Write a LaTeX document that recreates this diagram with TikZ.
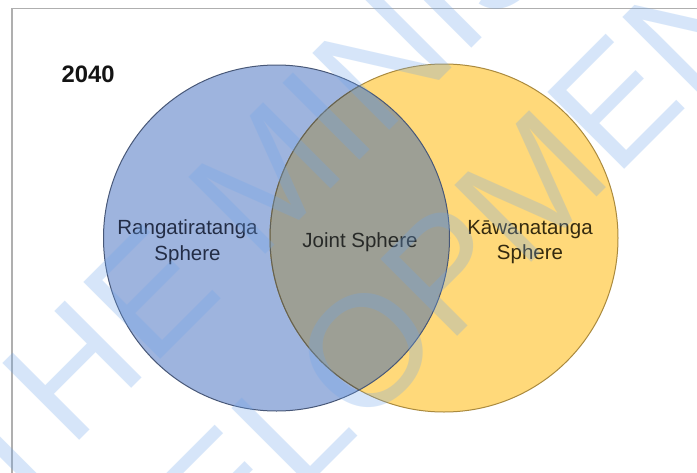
\documentclass[tikz,border=0pt]{standalone}
\usepackage{fontspec}
\setmainfont{Liberation Sans}
\definecolor{leftfill}{RGB}{158,180,222}
\definecolor{rightfill}{RGB}{255,217,122}
\definecolor{jointfill}{RGB}{157,159,149}
\definecolor{leftedge}{RGB}{72,88,120}
\definecolor{rightedge}{RGB}{170,138,62}
\definecolor{framegray}{RGB}{175,175,175}
\definecolor{wmblue}{RGB}{110,165,235}
\definecolor{lefttext}{RGB}{35,45,70}
\definecolor{jointtext}{RGB}{40,42,40}
\definecolor{righttext}{RGB}{52,42,15}
\definecolor{jointedge}{RGB}{95,96,88}
\definecolor{yeartext}{RGB}{20,20,20}
\tikzset{
  label/.style={inner sep=0pt, align=center, font=\fontsize{20.5}{25.5}\selectfont},
  wmtext/.style={inner sep=0pt, anchor=base west, rotate=45, text=wmblue, text opacity=0.28,
    font=\fontsize{158}{160}\selectfont},
}
\begin{document}
\begin{tikzpicture}[x=1pt, y=-1pt]
\useasboundingbox (0,0) rectangle (697,472);
\clip (0,0) rectangle (697,472);
\fill[white] (0,0) rectangle (697,472);
% frame
\draw[framegray, line width=1.4pt] (12,480) -- (12,8.5) -- (710,8.5);
% year
\node[inner sep=0pt, anchor=base west, font=\fontsize{23.8}{26}\selectfont\bfseries, text=yeartext] (year) at (61.5,82) {2040};
% circles
\fill[leftfill] (276.5,238) circle[radius=173pt];
\fill[rightfill] (444,238) circle[radius=174pt];
\begin{scope}
  \clip (276.5,238) circle[radius=173pt];
  \fill[jointfill] (444,238) circle[radius=174pt];
\end{scope}
\draw[rightedge, line width=1pt] (444,238) circle[radius=174pt];
\begin{scope}
  \clip (276.5,238) circle[radius=173pt];
  \draw[jointedge, line width=1pt] (444,238) circle[radius=174pt];
\end{scope}
\draw[leftedge, line width=1pt] (276.5,238) circle[radius=173pt];
% labels
\node[label, text=lefttext] (rang) at (187.5,242) {Rangatiratanga\\Sphere};
\node[label, text=jointtext] (joint) at (360,242.5) {Joint Sphere};
\node[label, text=righttext] (kawa) at (530,242) {Kāwanatanga\\Sphere};
% watermark
\node[wmtext] (wm1) at (2,518) {THE MINISTRY};
\node[wmtext] (wm2) at (-5,799) {DEVELOPMENT};
\end{tikzpicture}
\end{document}
